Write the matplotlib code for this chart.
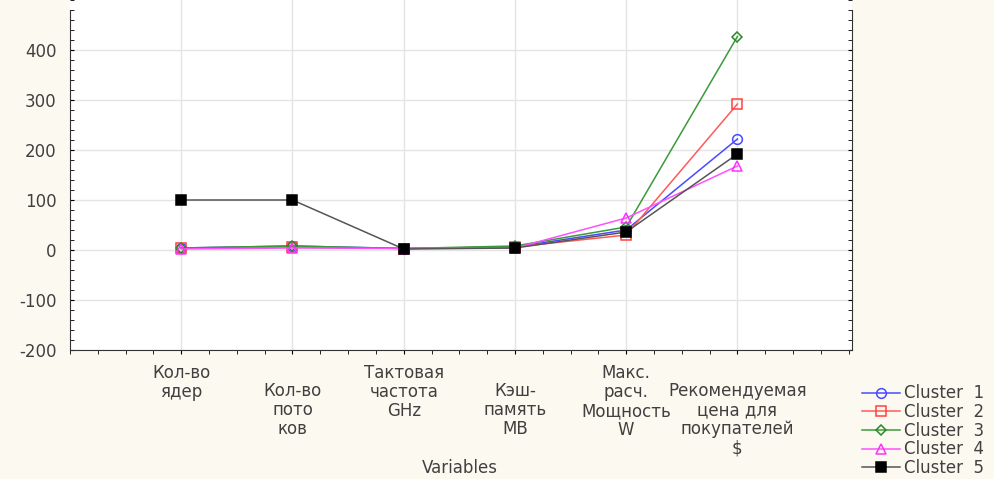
import matplotlib.pyplot as plt
from matplotlib.ticker import MultipleLocator

plt.rcParams['font.family'] = ['DejaVu Sans']
plt.rcParams['axes.unicode_minus'] = False

# Datos
variables = ["Кол-во\nядер", "Кол-во\nпото\nков", "Тактовая\nчастота\nGHz",
             "Кэш-\nпамять\nMB", "Макс.\nрасч.\nМощность\nW",
             "Рекомендуемая\nцена для\nпокупателей\n$"]
cluster1 = [4, 8, 3, 6, 40, 222]
cluster2 = [4, 6, 3, 6, 30, 292]
cluster3 = [4, 8, 3, 8, 46, 427]
cluster4 = [2, 4, 3, 4, 64, 168]
cluster5 = [100, 100, 2, 4, 36, 192]
labels = ["Cluster  1", "Cluster  2", "Cluster  3", "Cluster  4", "Cluster  5"]
yticks = [-200, -100, 0, 100, 200, 300, 400]

txt = '#404040'
fig = plt.figure(figsize=(9.95, 4.79), dpi=100, facecolor='#fcfaf0')
ax = fig.add_axes([70/995, 1-350/479, 782/995, 350/479])
ax.set_facecolor('white')

x = list(range(1, len(variables) + 1))
styles = [
    dict(color='#4a4aff', marker='o', mfc='none', mec='#4a4aff', ms=7),
    dict(color='#ff5a5a', marker='s', mfc='none', mec='#ff4040', ms=7),
    dict(color='#3a9a3a', marker='D', mfc='none', mec='#2a8a2a', ms=5),
    dict(color='#ff50ff', marker='^', mfc='none', mec='#ff30ff', ms=7),
    dict(color='#555555', marker='s', mfc='black', mec='black', ms=7),
]
lines = []
for data, st, lab in zip([cluster1, cluster2, cluster3, cluster4, cluster5], styles, labels):
    l, = ax.plot(x, data, lw=1.1, mew=1.1, label=lab, **st)
    lines.append(l)

ax.set_xlim(0, 7.03)
ax.set_ylim(-200, 500)
ax.set_xticks(x)
ax.set_xticklabels([])
ax.xaxis.set_minor_locator(MultipleLocator(0.25))
ax.set_yticks(yticks)
ax.yaxis.set_minor_locator(MultipleLocator(20))
ax.tick_params(axis='y', which='both', direction='in', right=True, labelsize=12,
               labelcolor=txt, length=3, pad=9.5)
ax.tick_params(axis='x', which='both', direction='out', length=3)
ax.grid(True, which='major', color='#e4e4e4', lw=1)
ax.set_axisbelow(True)
ax.spines['top'].set_visible(False)
ax.spines['left'].set_bounds(-200, 480)
ax.spines['right'].set_bounds(-200, 480)
for s in ['left', 'right', 'bottom']:
    ax.spines[s].set_color('#333333')

# etiquetas de variables escalonadas
for i, name in enumerate(variables):
    yoff = -0.04 - (0.051 if i % 2 else 0)
    ax.text(x[i], yoff, name, transform=ax.get_xaxis_transform(), ha='center',
            va='top', fontsize=12, color=txt, linespacing=1.08, multialignment='center')

fig.text(460/995, 1-468/479, "Variables", ha='center', va='center', fontsize=12, color=txt)

fig.legend(handles=lines, loc='lower left', bbox_to_anchor=(862/995, 2/479),
           frameon=False, fontsize=12, labelcolor=txt, handlelength=2.3,
           handletextpad=0.25, labelspacing=0.04, borderaxespad=0, borderpad=0)

plt.savefig("out.png", dpi=100, facecolor=fig.get_facecolor())
